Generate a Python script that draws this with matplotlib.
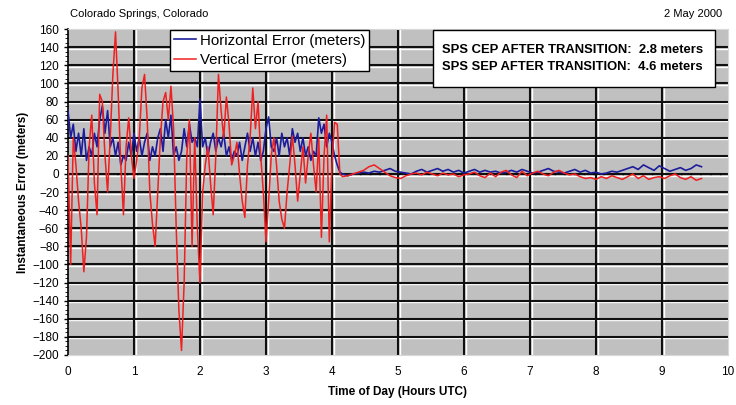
import numpy as np
import matplotlib
matplotlib.use("Agg")
import matplotlib.pyplot as plt
from matplotlib.transforms import ScaledTranslation
from matplotlib.patches import Rectangle

plt.rcParams['font.family'] = ['Liberation Sans', 'DejaVu Sans']

# ---- data (hours UTC, meters) ----
pre_step = 0.04
vertical_pre = [20, -100, 40, 10, -30, -60, -108, -70, 30, 65, -10, -45, 88, 80, 20, -20,
                40, 110, 157, 90, 10, -45, 30, 62, 20, -5, 15, 40, 95, 110, 60, -20,
                -55, -80, -20, 40, 80, 90, 60, 97, 50, -60, -150, -195, -120, 20, 60, -80,
                40, -60, -120, -20, 10, 30, -10, -45, 20, 110, 70, 40, 85, 55, 10, 20,
                35, 0, -30, -48, 10, 40, 95, 50, 80, 20, -20, -75, -30, 20, 40, 10,
                -30, -50, -60, -20, 10, 42, 10, -30, 0, 30, -10, 20, 45, 10, -20, 40,
                -70, 20, 65, -75, 10, 57, 55, 0]
horizontal_pre = [70, 40, 55, 25, 45, 20, 50, 15, 30, 20, 45, 30, 60, 75, 45, 70,
                  30, 40, 20, 35, 10, 20, 15, 35, 20, 45, 25, 40, 20, 35, 45, 15,
                  30, 20, 40, 50, 25, 60, 40, 65, 20, 30, 15, 25, 50, 30, 55, 35,
                  40, 30, 83, 30, 40, 20, 35, 45, 25, 40, 30, 45, 20, 30, 15, 25,
                  20, 35, 15, 30, 45, 25, 40, 20, 35, 15, 25, 50, 63, 30, 25, 40,
                  20, 45, 30, 40, 20, 50, 35, 45, 25, 40, 20, 30, 15, 25, 20, 62,
                  45, 55, 30, 45, 35, 20, 10, 2]
horizontal_post = [0, -2, 0, 1, 2, 1, 3, 2, 4, 6, 3, 2, 1, 0, 3, 5, 2, 4, 6, 3, 5, 2, 4, 1,
                   3, 5, 2, 4, 2, 3, 1, 2, 4, 2, 5, 3, 1, 2, 4, 6, 3, 2, 1, 3, 5, 2, 4, 1,
                   2, 0, 1, 3, 2, 4, 6, 8, 5, 10, 7, 4, 9, 6, 3, 5, 7, 4, 6, 10, 8]
vertical_post = [-3, -2, 0, 2, 4, 8, 10, 6, 2, -2, -4, -5, -2, 0, 1, -1, 2, 0, -2, 1, -1, 0,
                 -3, -1, 0, 2, -2, -4, 1, -3, 2, 4, -1, -4, 3, -2, 1, 3, 0, -2, 2, 4, 1, -1,
                 0, -3, -5, -4, -6, -3, -5, -2, -4, -6, -3, 0, -5, -2, -6, -4, -3, -5, -2,
                 0, -4, -6, -3, -7, -5]
post_start, post_end = 4.16, 9.6

t_pre = np.arange(len(vertical_pre)) * pre_step
t_post = np.linspace(post_start, post_end, len(vertical_post))
t_post_h = np.linspace(post_start, post_end, len(horizontal_post))
t_v = np.concatenate([t_pre, t_post])
t_h = np.concatenate([np.arange(len(horizontal_pre)) * pre_step, t_post_h])
vertical = np.concatenate([vertical_pre, vertical_post])
horizontal = np.concatenate([horizontal_pre, horizontal_post])

yticks = list(range(-200, 161, 20))
xticks = list(range(0, 11))

fig = plt.figure(figsize=(7.36, 4.05), dpi=100)
fig.patch.set_facecolor('white')
ax = fig.add_axes([0.0924, 0.1235, 0.8966, 0.8045])
ax.set_facecolor('#c0c0c0')

# 3D-style grid: black line with a white highlight line
off_down = ScaledTranslation(0, -1.6 / 100, fig.dpi_scale_trans)
off_right = ScaledTranslation(1.6 / 100, 0, fig.dpi_scale_trans)
for y in yticks[1:-1]:
    ax.plot([0, 1], [y, y], color='white', lw=1.0, zorder=1,
            transform=ax.get_yaxis_transform() + off_down)
    ax.axhline(y, color='#101010', lw=1.5, zorder=1.1)
for x in xticks[1:-1]:
    ax.plot([x, x], [0, 1], color='white', lw=1.0, zorder=1,
            transform=ax.get_xaxis_transform() + off_right)
    ax.axvline(x, color='#101010', lw=1.5, zorder=1.1)

ax.axhline(0, color='black', lw=1.0, ls=(0, (1, 6)), zorder=2)

ax.plot(t_h, horizontal, color='#1c1c9c', lw=1.2, zorder=3, label='Horizontal Error (meters)')
ax.plot(t_v, vertical, color='#f02020', lw=1.1, zorder=3.5, label='Vertical Error (meters)')

ax.set_xlim(0, 10)
ax.set_ylim(-200, 160)
ax.set_xticks(xticks)
ax.set_yticks(yticks)
ax.set_yticks(range(-200, 161, 5), minor=True)
ax.tick_params(axis='both', labelsize=8.5, length=3, width=1, colors='black')
ax.tick_params(axis='y', which='minor', length=2)
ax.tick_params(axis='x', length=0, pad=8)
for s in ['top', 'right', 'bottom']:
    ax.spines[s].set_color('#d8d8d8')
ax.spines['left'].set_color('black')
ax.spines['left'].set_linewidth(1.2)

ax.set_xlabel('Time of Day (Hours UTC)', fontsize=8.5, fontweight='bold', labelpad=6)
ax.set_ylabel('Instantaneous Error (meters)', fontsize=8.5, fontweight='bold', labelpad=2)

leg = ax.legend(loc='upper left', bbox_to_anchor=(0.1545, 0.998), fontsize=10.8, frameon=True,
                fancybox=False, edgecolor='black', framealpha=1, borderpad=0.25,
                handlelength=1.5, handletextpad=0.25, labelspacing=0.35, borderaxespad=0.0)
leg.get_frame().set_linewidth(1.0)
leg.set_zorder(10)

fig.text(70 / 736, 1 - 14 / 405, 'Colorado Springs, Colorado', fontsize=8, va='center', ha='left')
fig.text(722 / 736, 1 - 14 / 405, '2 May 2000', fontsize=8, va='center', ha='right')

box = Rectangle((0.553, 0.822), 0.427, 0.175, transform=ax.transAxes, facecolor='white',
                edgecolor='black', lw=1.0, zorder=11)
ax.add_patch(box)
ax.text(0.5667, 0.9356, 'SPS CEP AFTER TRANSITION:  2.8 meters', transform=ax.transAxes,
        fontsize=9.4, fontweight='bold', va='center', ha='left', zorder=12)
ax.text(0.5667, 0.8834, 'SPS SEP AFTER TRANSITION:  4.6 meters', transform=ax.transAxes,
        fontsize=9.4, fontweight='bold', va='center', ha='left', zorder=12)

fig.savefig('out.png', dpi=100)
